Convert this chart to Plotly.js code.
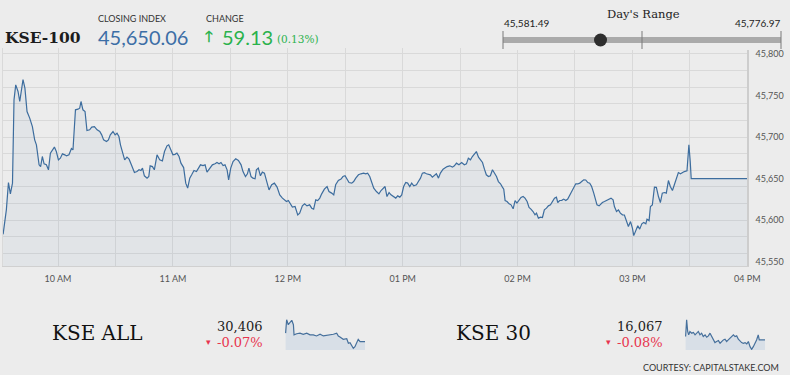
<!DOCTYPE html>
<html>
<head>
<meta charset="utf-8">
<script src="https://cdn.plot.ly/plotly-3.0.1.min.js"></script>
<style>html,body{margin:0;padding:0;background:#ececec;}#chart{width:790px;height:375px;}</style>
</head>
<body>
<div id="chart"></div>
<script>
// ---------- DATA ----------
// KSE-100 intraday: minutes after 09:30 and index level
const kse100Min = [1.3,3.0,4.1,5.1,6.2,7.0,7.9,9.1,10.0,10.9,11.7,12.7,13.8,15.2,16.6,17.8,18.7,20.1,20.9,21.8,22.7,23.9,25.0,26.0,27.1,28.1,29.1,30.2,31.2,32.3,33.5,34.4,35.7,37.0,37.8,39.1,40.4,41.3,42.0,43.0,44.1,45.1,46.5,47.6,49.0,50.4,51.8,52.8,53.8,55.3,56.3,57.3,58.7,59.8,60.8,61.8,62.6,63.6,64.8,66.0,67.1,68.3,69.9,71.2,72.3,73.3,74.1,75.1,76.5,77.4,78.1,79.3,80.3,81.7,83.1,84.5,85.6,86.9,87.8,88.9,90.0,91.1,92.1,93.2,94.2,95.6,96.7,97.7,98.8,99.8,101.0,102.3,103.3,104.4,105.7,106.8,107.8,109.2,110.6,112.0,113.0,114.1,115.1,116.2,117.2,118.3,119.1,120.2,121.4,122.8,124.2,125.6,126.6,127.9,128.9,129.7,130.8,131.8,132.9,133.6,134.6,135.7,136.7,137.8,138.8,140.2,141.6,143.0,144.4,145.8,147.2,148.2,149.3,150.3,151.4,152.4,153.8,155.2,156.2,157.6,158.8,160.0,161.4,162.5,163.5,164.6,165.6,166.7,167.7,169.1,170.5,171.5,172.9,174.0,175.0,176.4,177.8,178.8,179.9,180.9,182.0,183.4,184.4,185.5,186.9,188.2,189.6,190.7,191.7,192.8,193.8,194.9,196.3,197.6,198.7,199.7,200.8,201.8,202.9,203.9,205.0,206.4,207.4,208.5,209.5,210.5,211.6,212.6,213.7,214.7,215.8,217.2,218.2,219.3,220.3,221.3,222.4,223.4,224.5,225.5,226.6,227.6,228.7,229.7,231.1,232.1,233.2,234.6,236.0,237.0,238.1,239.4,240.8,242.2,243.3,244.3,245.4,246.4,247.5,248.5,249.6,250.6,251.7,252.7,253.7,254.8,255.8,256.9,257.9,259.0,260.0,261.1,262.1,262.8,263.5,264.5,265.6,266.6,267.7,268.7,269.7,270.8,271.8,272.9,273.9,275.0,276.0,277.0,278.1,279.1,279.9,280.9,282.0,283.0,284.0,285.1,286.1,287.2,288.2,289.3,290.3,291.0,292.0,293.1,294.1,295.2,296.2,297.3,298.3,299.3,300.4,301.4,302.5,303.5,304.6,305.6,306.7,307.7,308.7,309.8,310.8,311.5,312.6,314.3,315.4,316.4,317.8,318.8,319.9,320.6,321.7,322.7,323.7,324.8,325.8,326.9,327.9,329.0,330.0,330.7,331.7,332.8,333.8,334.9,335.9,337.0,337.6,338.7,339.4,340.4,341.5,342.5,343.6,344.6,345.6,346.7,347.7,348.8,349.8,350.9,351.9,353.0,354.0,355.1,356.1,357.1,358.5,359.5,360.2,360.7,390];
const kse100Val = [45583,45612.5,45645.3,45631.7,45644.6,45744.7,45762.7,45754.7,45742.7,45760.7,45769,45758.8,45730.7,45722.7,45712.6,45696.6,45690.6,45666.6,45664.5,45676.6,45667.8,45666.6,45660.6,45680.7,45684.6,45687.9,45682.6,45672.6,45674.6,45679.8,45678.6,45677.4,45678.6,45686.2,45684.6,45732.7,45733.5,45734.7,45742.7,45732.7,45730.7,45707.8,45708.7,45711.9,45712.6,45708.7,45706.6,45702.6,45696.6,45694.6,45696.6,45702.6,45706.6,45702.6,45704.7,45700.6,45690.6,45682.6,45672.6,45675.8,45673.4,45666.6,45657.3,45658.5,45660.6,45659.7,45662.6,45653.4,45650.6,45652.5,45665.4,45664.5,45660.6,45678.6,45672.6,45671.4,45682.6,45689.4,45690.6,45684.6,45678.6,45679.2,45680.7,45676.6,45668.6,45663.3,45644.6,45638.6,45650.6,45654.6,45659.7,45658.5,45662.6,45666.6,45665.7,45666.6,45657.8,45662.6,45666.6,45667.8,45669.4,45667.8,45669.4,45665.7,45666.6,45660.6,45648.6,45662.6,45670.6,45673.8,45671.8,45666.6,45658.5,45652.5,45655.8,45662.6,45652.5,45650.6,45649.8,45660.6,45662.6,45653.4,45657.8,45656.6,45648.6,45636.5,45642.6,45644.6,45639.8,45630.5,45626.6,45624.5,45622.5,45623.7,45619.7,45615.7,45616.5,45606.5,45608.5,45617.3,45619.7,45617.3,45618.5,45614.5,45613.3,45624.5,45623.7,45626.6,45631.7,45637.4,45640.5,45634.5,45632.6,45630.5,45642.6,45647.7,45649.4,45652.5,45653.4,45648.6,45645.3,45644.6,45646.5,45650.6,45654.6,45655.8,45656.6,45655.8,45656.6,45652.5,45644.6,45638.6,45634.5,45631.7,45635.7,45638.6,45640.5,45628.5,45633.3,45630.5,45628.5,45626.6,45629.3,45627.8,45630.5,45640.5,45645.3,45644.6,45640.5,45644.6,45641.3,45642.6,45646.5,45650.6,45656.6,45657.3,45655.8,45655.6,45654.6,45651.8,45653.4,45655.8,45650.6,45656.6,45661.4,45663.3,45664.5,45665.4,45663.8,45665.4,45668.6,45666.6,45669.4,45666.6,45667.8,45674.6,45672.6,45676.6,45679.8,45682.6,45675.8,45672.6,45669.4,45661.4,45654.6,45652.5,45653.4,45660.6,45656.6,45652.5,45646.5,45643.8,45639.8,45637.4,45623.7,45622.5,45619.7,45618.5,45613.7,45623.7,45620.6,45624.5,45627.3,45628.5,45626.6,45622.5,45615.3,45613.3,45610.5,45606.5,45608.5,45602.5,45603.7,45603.3,45612.5,45614.5,45617.3,45618.5,45622.5,45626.6,45627.8,45621.3,45623.7,45623.9,45625.4,45623.7,45625.4,45630.5,45634.5,45638.6,45643.8,45643.6,45644.6,45646.5,45648.6,45648.4,45645.3,45644.6,45640.5,45632.6,45624.5,45618.5,45617.3,45621.3,45622.5,45623.7,45625.4,45626.6,45624.5,45616.5,45610.5,45612.5,45608.5,45606.5,45606.3,45599.6,45592.4,45598.4,45590.5,45581.5,45587.6,45593.3,45589.3,45595.7,45597.2,45595.7,45601.3,45599.6,45616.5,45618.5,45639.8,45639.6,45628.5,45621.3,45632.6,45633.3,45632.6,45647.7,45640.5,45635.7,45642.6,45649.4,45657.3,45655.8,45657.3,45658.5,45659.4,45690.6,45670.6,45650.06,45650.06];

// KSE ALL sparkline
const kseAllMin = [3,8,16,24,33,41,44,57,73,89,106,122,138,154,171,187,203,219,236,252,260,268,284,301,309,317,325,333,341,349,357,366,390];
const kseAllVal = [30421,30445,30436,30439,30444,30436,30418,30420,30421,30419,30421,30418,30418,30416,30419,30416,30417,30417,30419,30421,30416,30414,30410,30411,30403,30404,30400,30394,30397,30403,30410,30406,30406];
// KSE 30 sparkline
const kse30Min = [3,8,13,18,24,33,41,49,57,65,73,81,89,98,106,114,122,130,138,146,154,163,171,179,187,195,203,211,219,228,236,244,252,260,268,276,284,293,301,309,317,325,333,341,349,357,362,374,390];
const kse30Val = [16070.5,16088,16075.8,16072.3,16075.8,16074,16074.7,16072.3,16074,16075.8,16072.3,16074,16070.5,16072.3,16069.8,16071.2,16074,16070.5,16067,16064.2,16065.3,16066.3,16063.5,16065.3,16067,16067.7,16065.3,16067,16068.8,16069.8,16072.3,16070.5,16071.2,16067.7,16065.3,16064.2,16063.5,16064.2,16062.8,16065.3,16060,16057.2,16060,16063.5,16067,16072.3,16067,16067,16067];

const closingIndex = 45650.06;
const changePts = 59.13, changePct = 0.13;
const dayLow = 45581.49, dayHigh = 45776.97;
const kseAllClose = 30406, kseAllPct = -0.07;
const kse30Close = 16067, kse30Pct = -0.08;
const timeTickFormat = '%I %p';

// ---------- helpers ----------
function d(m){
  const s = Math.round(m*60) + 9*3600 + 30*60;
  const h = Math.floor(s/3600), mi = Math.floor((s%3600)/60), se = s%60;
  const p = n => String(n).padStart(2,'0');
  return '2019-01-01 ' + p(h) + ':' + p(mi) + ':' + p(se);
}
const W = 790, H = 375;
const px = x => x / W, py = y => 1 - y / H;
const fmt = (v, dec) => v.toLocaleString('en-US', {minimumFractionDigits: dec, maximumFractionDigits: dec});

const lineBlue = '#3d6d9e';
const grid = '#d9d9d9';
const tickFont = {family: 'Lato, sans-serif', size: 9, color: '#555'};

const traces = [
  {x: kse100Min.map(d), y: kse100Val, type: 'scatter', mode: 'lines', xaxis: 'x', yaxis: 'y',
   line: {color: lineBlue, width: 1.2}, fill: 'tozeroy', fillcolor: 'rgba(100,140,180,0.075)', hoverinfo: 'skip'},
  {x: [], y: [], type: 'scatter', mode: 'lines', xaxis: 'x', yaxis: 'y2', hoverinfo: 'skip'},
  {x: kseAllMin.map(d), y: kseAllVal, type: 'scatter', mode: 'lines', xaxis: 'x3', yaxis: 'y3',
   line: {color: '#46709c', width: 1.2}, fill: 'tozeroy', fillcolor: '#d8dfe7', hoverinfo: 'skip'},
  {x: kse30Min.map(d), y: kse30Val, type: 'scatter', mode: 'lines', xaxis: 'x4', yaxis: 'y4',
   line: {color: '#46709c', width: 1.2}, fill: 'tozeroy', fillcolor: '#d8dfe7', hoverinfo: 'skip'},
  // day's range gauge
  {x: [dayLow, dayHigh], y: [0, 0], type: 'scatter', mode: 'lines', xaxis: 'x5', yaxis: 'y5',
   line: {color: '#aaaaaa', width: 6}, hoverinfo: 'skip'},
  {x: [dayLow, dayLow, null, (dayLow + dayHigh) / 2, (dayLow + dayHigh) / 2, null, dayHigh, dayHigh],
   y: [-0.9, 0.9, null, -0.9, 0.9, null, -0.9, 0.9], type: 'scatter', mode: 'lines', xaxis: 'x5', yaxis: 'y5',
   line: {color: '#7a7a7a', width: 1}, hoverinfo: 'skip'},
  {x: [closingIndex], y: [0], type: 'scatter', mode: 'markers', xaxis: 'x5', yaxis: 'y5',
   marker: {color: '#2e2e2e', size: 13}, hoverinfo: 'skip'}
];

const gpad = (dayHigh - dayLow) * 3 / 278;
const yRange = [45545, 45807];
const hidden = {visible: false, fixedrange: true};

const ann = (text, x, y, xanchor, font) => ({text, x: px(x), y: py(y), xref: 'paper', yref: 'paper',
  xanchor, yanchor: 'middle', showarrow: false, font});
const serif = 'DejaVu Serif, serif';
const lato = 'Lato, sans-serif';
const green = '#2bb24c', red = '#e8344e';

const annotations = [
  ann('KSE-100', 3, 37, 'left', {family: serif, size: 15.5, color: '#1c1c1c', weight: 'bold'}),
  ann('CLOSING INDEX', 96, 19, 'left', {family: lato, size: 9, color: '#333'}),
  ann(fmt(closingIndex, 2), 96, 37, 'left', {family: lato, size: 20, color: '#3c6ea6'}),
  ann('CHANGE', 204, 19, 'left', {family: lato, size: 9, color: '#333'}),
  ann('🡑', 203, 37, 'left', {family: 'DejaVu Sans, sans-serif', size: 15, color: green, weight: 'bold'}),
  ann(fmt(changePts, 2), 220, 37, 'left', {family: lato, size: 20, color: green}),
  ann('(' + fmt(changePct, 2) + '%)', 275, 39, 'left', {family: serif, size: 10.5, color: green}),
  ann("Day's Range", 643, 14, 'center', {family: serif, size: 11.5, color: '#222'}),
  ann(fmt(dayLow, 2), 502, 23, 'left', {family: lato, size: 10, color: '#222'}),
  ann(fmt(dayHigh, 2), 782, 23, 'right', {family: lato, size: 10, color: '#222'}),
  ann('KSE ALL', 50, 333, 'left', {family: serif, size: 20, color: '#111'}),
  ann(fmt(kseAllClose, 0), 265, 326, 'right', {family: serif, size: 13, color: '#222'}),
  ann('▾', 208, 342, 'center', {family: 'DejaVu Sans, sans-serif', size: 9, color: red}),
  ann(fmt(kseAllPct, 2) + '%', 265, 342, 'right', {family: serif, size: 13, color: red}),
  ann('KSE 30', 454, 333, 'left', {family: serif, size: 20, color: '#111'}),
  ann(fmt(kse30Close, 0), 665, 326, 'right', {family: serif, size: 13, color: '#222'}),
  ann('▾', 608, 342, 'center', {family: 'DejaVu Sans, sans-serif', size: 9, color: red}),
  ann(fmt(kse30Pct, 2) + '%', 665, 342, 'right', {family: serif, size: 13, color: red}),
  ann('COURTESY: CAPITALSTAKE.COM', 781, 367, 'right', {family: lato, size: 9, color: '#333'})
];

const layout = {
  width: W, height: H, margin: {l: 0, r: 0, t: 0, b: 0},
  paper_bgcolor: '#ececec', plot_bgcolor: '#ececec', showlegend: false,
  xaxis: {domain: [px(3), px(747.3)], anchor: 'y', type: 'date', range: [d(1.25), d(390)],
    tick0: d(30), dtick: 3600000, tickformat: timeTickFormat, showgrid: true, gridcolor: grid, gridwidth: 1,
    minor: {tick0: d(0), dtick: 1800000, showgrid: true, gridcolor: grid, gridwidth: 1},
    showline: true, linecolor: '#d0d0d0', linewidth: 1, ticks: '', zeroline: false,
    tickfont: tickFont, ticklabelstandoff: 4, fixedrange: true},
  yaxis: {domain: [py(266), py(48)], anchor: 'x', range: yRange, side: 'right', tick0: 0, dtick: 50,
    tickformat: ',d', showgrid: false, showline: true, linecolor: '#cdcdcd', linewidth: 1.5, ticks: '',
    zeroline: false, tickfont: tickFont, ticklabelstandoff: 5, fixedrange: true},
  yaxis2: {overlaying: 'y', anchor: 'x', range: yRange, side: 'left', tick0: 0, dtick: 20,
    showticklabels: false, showgrid: true, gridcolor: grid, gridwidth: 1, ticks: '', zeroline: false,
    showline: true, linecolor: grid, fixedrange: true},
  xaxis3: Object.assign({domain: [px(285), px(365)], anchor: 'y3', type: 'date', range: [d(0), d(390)]}, hidden),
  yaxis3: Object.assign({domain: [py(350), py(318)], anchor: 'x3', range: [30391, 30448]}, hidden),
  xaxis4: Object.assign({domain: [px(685), px(765)], anchor: 'y4', type: 'date', range: [d(0), d(390)]}, hidden),
  yaxis4: Object.assign({domain: [py(350), py(318)], anchor: 'x4', range: [16056.5, 16089.8]}, hidden),
  xaxis5: Object.assign({domain: [px(500), px(784)], anchor: 'y5', range: [dayLow - gpad, dayHigh + gpad]}, hidden),
  yaxis5: Object.assign({domain: [py(50), py(30)], anchor: 'x5', range: [-1, 1]}, hidden),
  annotations
};

Plotly.newPlot('chart', traces, layout, {staticPlot: true, displayModeBar: false});
</script>
</body>
</html>
